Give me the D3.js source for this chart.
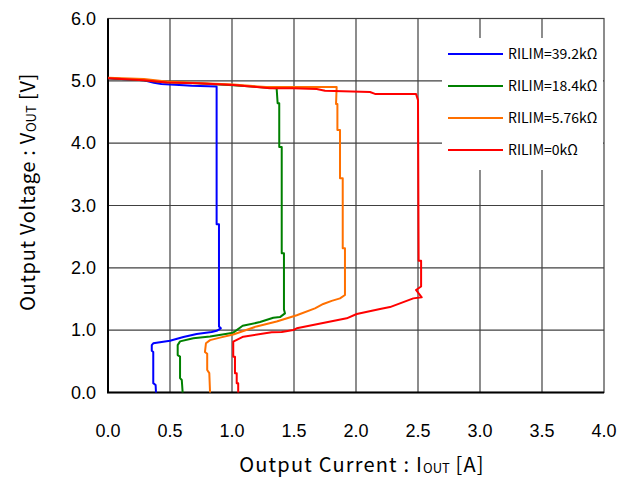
<!DOCTYPE html>
<html>
<head>
<meta charset="utf-8">
<script src="https://cdn.jsdelivr.net/npm/d3@7"></script>
<style>
  body { margin: 0; background: #fff; }
  svg { display: block; }
</style>
</head>
<body>
<div id="main"></div>
<script>
// tick values
const xTicks = [0, 0.5, 1.0, 1.5, 2.0, 2.5, 3.0, 3.5, 4.0];
const yTicks = [0, 1, 2, 3, 4, 5, 6];

// legend labels
const labels = ["RILIM=39.2k\u03A9", "RILIM=18.4k\u03A9", "RILIM=5.76k\u03A9", "RILIM=0k\u03A9"];

// [Iout (A), Vout (V)]
const curve39k2 = [[0,5.04],[0.29,5.01],[0.37,4.97],[0.43,4.95],[0.61,4.93],[0.675,4.92],[0.876,4.91],
  [0.876,2.70],[0.895,2.70],[0.895,1.06],[0.91,1.03],[0.876,0.99],[0.836,0.97],[0.715,0.94],
  [0.608,0.89],[0.5,0.83],[0.365,0.79],[0.353,0.76],[0.353,0.67],[0.365,0.65],[0.365,0.15],
  [0.384,0.12],[0.387,0]];
const curve18k4 = [[0,5.04],[0.29,5.01],[0.44,4.98],[0.72,4.96],[1.01,4.93],[1.36,4.88],
  [1.368,4.64],[1.381,4.64],[1.381,3.94],[1.401,3.94],[1.401,2.233],[1.419,2.233],[1.419,1.33],
  [1.427,1.27],[1.387,1.21],[1.333,1.2],[1.226,1.13],[1.086,1.07],[1.01,0.96],[0.823,0.9],
  [0.688,0.87],[0.581,0.82],[0.562,0.76],[0.562,0.6],[0.581,0.576],[0.581,0.23],[0.595,0.2],[0.602,0]];
const curve5k76 = [[0,5.05],[0.29,5.03],[0.47,4.99],[0.72,4.965],[1.01,4.94],[1.274,4.9],[1.844,4.9],
  [1.839,4.63],[1.85,4.63],[1.85,4.21],[1.871,4.21],[1.871,3.436],[1.893,3.436],[1.893,2.313],
  [1.911,2.313],[1.911,1.564],[1.871,1.51],[1.804,1.47],[1.736,1.42],[1.669,1.35],[1.522,1.24],
  [1.36,1.14],[1.198,1.06],[1.01,0.93],[0.903,0.88],[0.823,0.84],[0.79,0.79],[0.782,0.65],
  [0.8,0.62],[0.8,0.36],[0.817,0.31],[0.823,0]];
const curve0k = [[0,5.04],[0.285,5.01],[0.474,4.975],[0.716,4.96],[1.011,4.935],[1.306,4.88],
  [1.492,4.88],[1.683,4.87],[1.75,4.84],[2.113,4.82],[2.153,4.79],[2.484,4.79],[2.5,4.69],
  [2.505,2.115],[2.525,2.115],[2.525,1.7],[2.484,1.645],[2.53,1.527],[2.462,1.51],[2.274,1.37],
  [2.194,1.34],[2.006,1.26],[1.925,1.19],[1.522,1.03],[1.494,1.003],[1.401,0.97],[1.32,0.966],
  [1.091,0.895],[1.01,0.815],[1.01,0.574],[1.024,0.574],[1.024,0.308],[1.038,0.308],
  [1.038,0.148],[1.05,0.148],[1.05,0]];

const curves = [curve39k2, curve18k4, curve5k76, curve0k];
const colors = ["#0000ff", "#008000", "#ff7000", "#ff0000"];

const W = 630, H = 479;
const margin = { top: 18.5, right: 26, bottom: 86.5, left: 108 };

const svg = d3.select("#main").append("svg")
  .attr("width", W).attr("height", H)
  .attr("viewBox", `0 0 ${W} ${H}`);

const x = d3.scaleLinear().domain([0, 4]).range([margin.left, W - margin.right]);
const y = d3.scaleLinear().domain([0, 6]).range([H - margin.bottom, margin.top]);

// grid
svg.append("g")
  .selectAll("line")
  .data(xTicks.slice(1, -1))
  .enter().append("line")
  .attr("x1", d => x(d)).attr("x2", d => x(d))
  .attr("y1", y(0)).attr("y2", y(6))
  .attr("stroke", "#404040").attr("stroke-width", 1.2);

svg.append("g")
  .selectAll("line")
  .data(yTicks.slice(1, -1))
  .enter().append("line")
  .attr("x1", x(0)).attr("x2", x(4))
  .attr("y1", d => y(d)).attr("y2", d => y(d))
  .attr("stroke", "#404040").attr("stroke-width", 1.2);

// frame
svg.append("rect")
  .attr("x", x(0)).attr("y", y(6))
  .attr("width", x(4) - x(0)).attr("height", y(0) - y(6))
  .attr("fill", "none").attr("stroke", "#404040").attr("stroke-width", 1.2);
svg.append("path")
  .attr("d", `M${x(0)},${y(6)}V${y(0)}H${x(4)}`)
  .attr("fill", "none").attr("stroke", "#000").attr("stroke-width", 2);

// legend background (over the grid, under the curves)
svg.append("rect")
  .attr("x", 442).attr("y", 38)
  .attr("width", x(4) - 442 - 1).attr("height", 132)
  .attr("fill", "#fff");

// curves
const line = d3.line().x(d => x(d[0])).y(d => y(d[1]));
svg.append("g")
  .selectAll("path")
  .data(curves)
  .enter().append("path")
  .attr("d", line)
  .attr("fill", "none")
  .attr("stroke", (d, i) => colors[i])
  .attr("stroke-width", 2)
  .attr("stroke-linejoin", "round");

// tick labels
const tickFont = "'Liberation Sans', Arial, sans-serif";
svg.append("g")
  .selectAll("text")
  .data(xTicks)
  .enter().append("text")
  .attr("x", d => x(d)).attr("y", 437)
  .attr("text-anchor", "middle")
  .attr("font-family", tickFont).attr("font-size", 18)
  .text(d => d3.format(".1f")(d));

svg.append("g")
  .selectAll("text")
  .data(yTicks)
  .enter().append("text")
  .attr("x", 96).attr("y", d => y(d) + 6)
  .attr("text-anchor", "end")
  .attr("font-family", tickFont).attr("font-size", 18)
  .text(d => d3.format(".1f")(d));

// axis titles
const titleFont = "'Noto Sans CJK JP', 'Noto Sans', sans-serif";
const xt = svg.append("text")
  .attr("x", 362).attr("y", 472)
  .attr("text-anchor", "middle")
  .attr("font-family", titleFont).attr("font-size", 20)
  .attr("letter-spacing", 1.2);
xt.append("tspan").text("Output Current : I");
xt.append("tspan").attr("font-size", 13).attr("dy", 1).attr("letter-spacing", 0).text("OUT");
xt.append("tspan").attr("dy", -1).text(" [A]");

const yt = svg.append("text")
  .attr("transform", `translate(35,192) rotate(-90)`)
  .attr("text-anchor", "middle")
  .attr("font-family", titleFont).attr("font-size", 20)
  .attr("letter-spacing", 0.7);
yt.append("tspan").text("Output Voltage : V");
yt.append("tspan").attr("font-size", 13).attr("dy", 1).attr("letter-spacing", 0).text("OUT");
yt.append("tspan").attr("dy", -1).text(" [V]");

// legend
const legend = svg.append("g").selectAll("g")
  .data(labels)
  .enter().append("g")
  .attr("transform", (d, i) => `translate(448,${54 + i * 32})`);
legend.append("line")
  .attr("x1", 0).attr("x2", 55)
  .attr("stroke", (d, i) => colors[i]).attr("stroke-width", 2);
legend.append("text")
  .attr("x", 60).attr("y", 5)
  .attr("font-family", titleFont).attr("font-size", 14)
  .text(d => d);
</script>
</body>
</html>
